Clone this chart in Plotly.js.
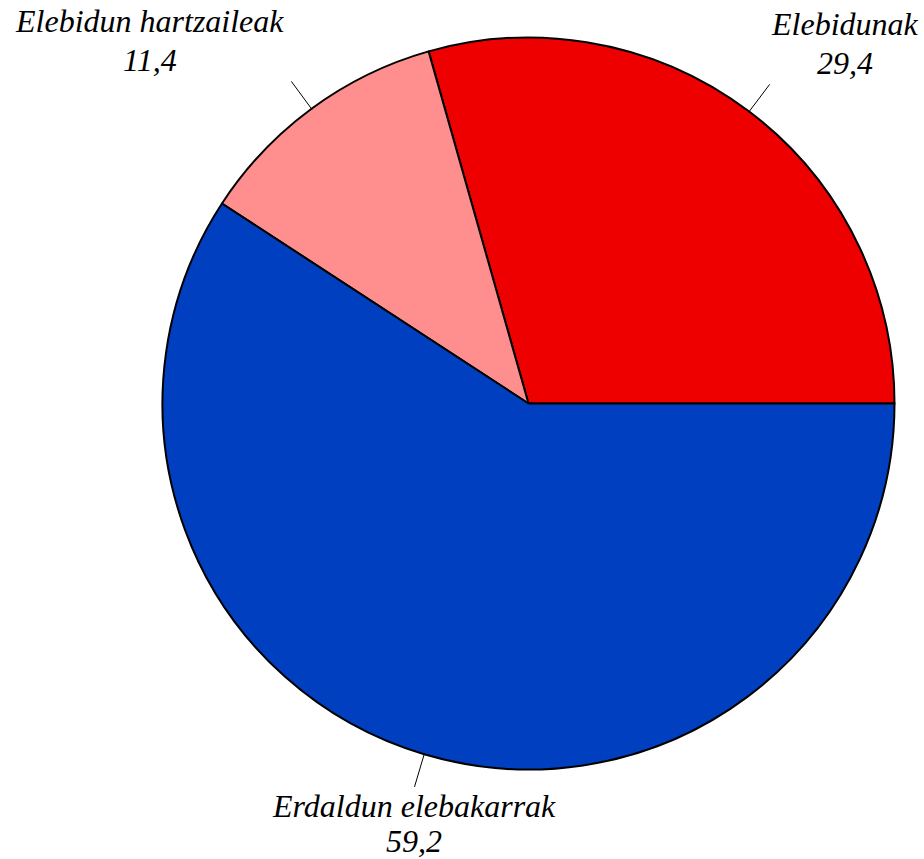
<!DOCTYPE html>
<html><head><meta charset="utf-8">
<script src="https://cdn.plot.ly/plotly-3.0.1.min.js"></script>
<style>html,body{margin:0;padding:0;background:#fff}#chart{width:924px;height:859px}</style>
</head><body><div id="chart"></div>
<script>
const labels = ["Elebidunak", "Elebidun hartzaileak", "Erdaldun elebakarrak"];
const values = [29.4, 11.4, 59.2];
const valueText = ["29,4", "11,4", "59,2"];
const colors = ["#EE0000", "#FF8F8F", "#0040C0"];

const W = 924, H = 859;
const cx = 528.5, cy = 403.5, R = 366;
const dom = {x: [(cx - R) / W, (cx + R) / W], y: [(H - cy - R) / H, (H - cy + R) / H]};
const FS = 32;
const font = {family: "Liberation Serif", size: FS, color: "#000", style: "italic"};

const ctx = document.createElement("canvas").getContext("2d");
ctx.font = "italic " + FS + "px 'Liberation Serif'";

const total = values.reduce((a, b) => a + b, 0);
const annotations = [], shapes = [];
let start = 0;
values.forEach((v, i) => {
  const mid = (start + v / 2) / total * 2 * Math.PI;
  start += v;
  const c = Math.cos(mid), s = Math.sin(mid);
  const x0 = cx + (R - 1) * c, y0 = cy - (R - 1) * s;
  const ex = cx + (R + 34) * c, ey = cy - (R + 34) * s;
  shapes.push({type: "line", xref: "paper", yref: "paper",
    x0: x0 / W, y0: 1 - y0 / H, x1: ex / W, y1: 1 - ey / H,
    line: {color: "#000", width: 1}});
  const w = ctx.measureText(labels[i]).width;
  let bx;
  if (Math.abs(c) < 0.35) bx = ex;
  else if (c > 0) bx = ex + 2 + w / 2;
  else bx = ex - 8 - w / 2;
  const nameY = s > 0 ? ey - 60 : ey + 19;
  const valY = s > 0 ? ey - 21 : ey + 54;
  [[labels[i], nameY], [valueText[i], valY]].forEach(([t, yy]) => {
    annotations.push({xref: "paper", yref: "paper", x: bx / W, y: 1 - yy / H,
      text: t, showarrow: false, xanchor: "center", yanchor: "middle",
      font: font});
  });
});

Plotly.newPlot("chart", [{
  type: "pie", labels: labels, values: values, sort: false,
  direction: "counterclockwise", rotation: 90 - 360 * values[0] / total,
  marker: {colors: colors, line: {color: "#000", width: 2}},
  textinfo: "none", hoverinfo: "label+value", domain: dom
}], {
  width: W, height: H, margin: {l: 0, r: 0, t: 0, b: 0},
  paper_bgcolor: "#fff", showlegend: false,
  annotations: annotations, shapes: shapes
}, {displayModeBar: false, staticPlot: true});
</script></body></html>
